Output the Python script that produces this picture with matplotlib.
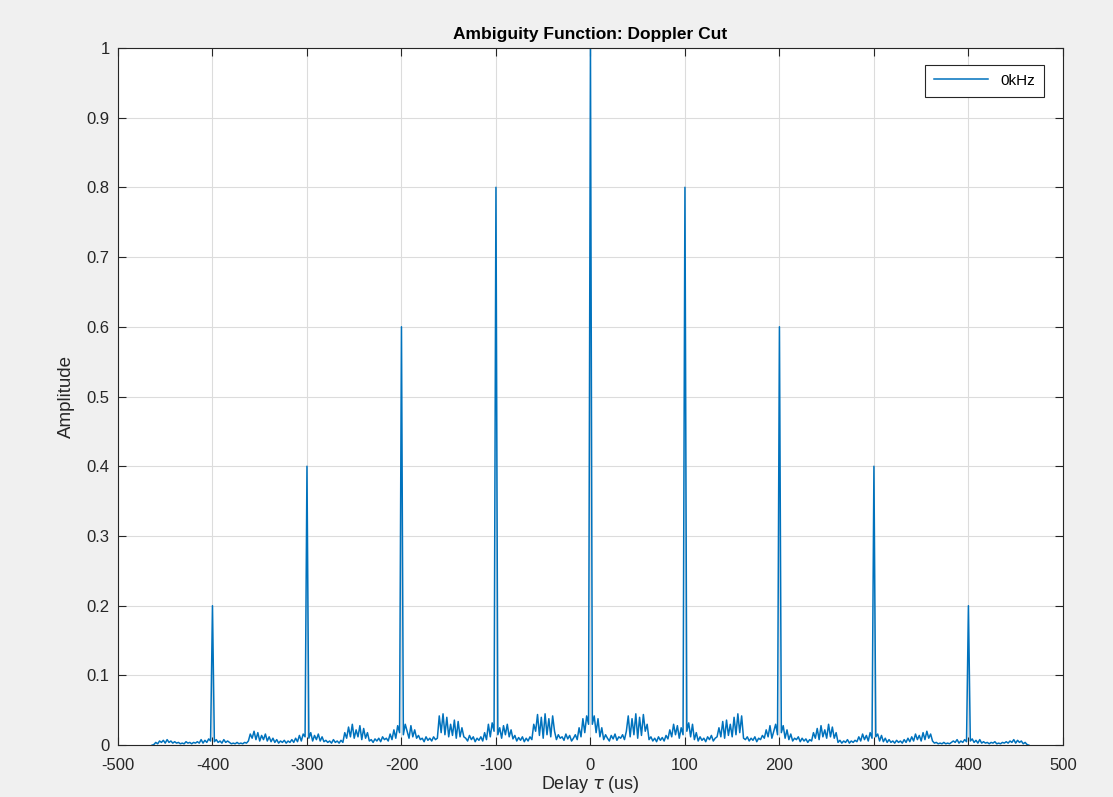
"""
Ambiguity function, zero-Doppler cut of a 5-pulse train (MATLAB-style figure).
Sidelobe levels were read by eye off the reference picture, 2 us apart,
for the positive delays only; the cut is symmetric so the left half is mirrored.
"""
import matplotlib
matplotlib.use("Agg")
import matplotlib.pyplot as plt
import numpy as np

TAU_STEP_US = 2

# |chi(tau, 0)| for tau = 0, 2, 4, ... 464 us
AMP_POS = [
    1.0, 0.03, 0.042, 0.018, 0.038, 0.012, 0.025, 0.008, 0.015, 0.01,
    0.006, 0.014, 0.009, 0.016, 0.007, 0.012, 0.01, 0.015, 0.008, 0.02,
    0.042, 0.012, 0.038, 0.015, 0.045, 0.01, 0.04, 0.014, 0.044, 0.02,
    0.03, 0.008, 0.012, 0.006, 0.01, 0.005, 0.012, 0.007, 0.011, 0.006,
    0.014, 0.009, 0.022, 0.012, 0.03, 0.015, 0.028, 0.01, 0.025, 0.015,
    0.8, 0.02, 0.032, 0.012, 0.03, 0.008, 0.018, 0.006, 0.012, 0.007,
    0.01, 0.005, 0.012, 0.008, 0.014, 0.006, 0.01, 0.012, 0.025, 0.012,
    0.034, 0.01, 0.036, 0.014, 0.03, 0.012, 0.04, 0.015, 0.045, 0.018,
    0.042, 0.01, 0.008, 0.012, 0.006, 0.01, 0.007, 0.012, 0.005, 0.01,
    0.008, 0.014, 0.01, 0.022, 0.012, 0.028, 0.01, 0.02, 0.03, 0.015,
    0.6, 0.018, 0.028, 0.01, 0.022, 0.008, 0.016, 0.006, 0.01, 0.008,
    0.012, 0.005, 0.01, 0.006, 0.009, 0.004, 0.008, 0.006, 0.018, 0.01,
    0.024, 0.008, 0.028, 0.012, 0.022, 0.01, 0.03, 0.012, 0.026, 0.01,
    0.018, 0.004, 0.007, 0.003, 0.006, 0.004, 0.008, 0.003, 0.006, 0.004,
    0.007, 0.005, 0.012, 0.006, 0.016, 0.008, 0.014, 0.006, 0.018, 0.01,
    0.4, 0.012, 0.016, 0.006, 0.014, 0.005, 0.01, 0.004, 0.008, 0.004,
    0.006, 0.003, 0.007, 0.004, 0.006, 0.003, 0.008, 0.004, 0.01, 0.005,
    0.012, 0.006, 0.016, 0.008, 0.014, 0.006, 0.018, 0.008, 0.02, 0.01,
    0.016, 0.006, 0.003, 0.004, 0.002, 0.003, 0.002, 0.004, 0.002, 0.003,
    0.002, 0.004, 0.006, 0.004, 0.008, 0.003, 0.006, 0.004, 0.008, 0.005,
    0.2, 0.006, 0.009, 0.004, 0.007, 0.003, 0.008, 0.003, 0.005, 0.003,
    0.004, 0.002, 0.004, 0.003, 0.005, 0.002, 0.003, 0.002, 0.004, 0.003,
    0.005, 0.003, 0.006, 0.004, 0.008, 0.003, 0.007, 0.004, 0.006, 0.002,
    0.004, 0.001, 0.0,
]

X_TICKS = [-500, -400, -300, -200, -100, 0, 100, 200, 300, 400, 500]
Y_TICKS = [0, 0.1, 0.2, 0.3, 0.4, 0.5, 0.6, 0.7, 0.8, 0.9, 1]
Y_TICK_LABELS = ["0", "0.1", "0.2", "0.3", "0.4", "0.5", "0.6", "0.7", "0.8", "0.9", "1"]

MATLAB_BLUE = "#0072BD"
AXIS_DARK = "#262626"


def main() -> None:
    plt.rcParams["font.family"] = ["Liberation Sans", "DejaVu Sans"]
    plt.rcParams["mathtext.fontset"] = "dejavusans"

    amp_pos = np.array(AMP_POS)
    amp = np.concatenate([amp_pos[:0:-1], amp_pos])
    n_half = len(amp_pos) - 1
    tau = np.arange(-n_half, n_half + 1) * TAU_STEP_US

    fig = plt.figure(figsize=(11.13, 7.97), dpi=100, facecolor="#f0f0f0")
    ax = fig.add_axes([0.106, 0.065, 0.849, 0.875])
    ax.set_facecolor("white")

    ax.plot(tau, amp, color=MATLAB_BLUE, lw=1.1, label="0kHz")

    ax.set_xlim(-500, 500)
    ax.set_ylim(0, 1)
    ax.set_xticks(X_TICKS)
    ax.set_xticklabels([str(t) for t in X_TICKS])
    ax.set_yticks(Y_TICKS)
    ax.set_yticklabels(Y_TICK_LABELS)

    ax.grid(True, color="#dcdcdc", lw=0.8)
    ax.set_axisbelow(True)
    for side in ax.spines.values():
        side.set_color(AXIS_DARK)
        side.set_linewidth(0.8)
    ax.tick_params(direction="in", top=True, right=True, length=6,
                   width=0.8, color=AXIS_DARK, labelcolor=AXIS_DARK,
                   labelsize=12)
    ax.tick_params(axis="x", pad=9)
    ax.tick_params(axis="y", pad=6)

    ax.set_title("Ambiguity Function: Doppler Cut", fontsize=12.5,
                 fontweight="bold", color="black", pad=6)
    ax.set_xlabel(r"Delay $\tau$ (us)", fontsize=13, color=AXIS_DARK, labelpad=1)
    ax.set_ylabel("Amplitude", fontsize=13.5, color=AXIS_DARK, labelpad=8)

    leg = ax.legend(loc="upper right", fontsize=11, frameon=True, fancybox=False,
                    handlelength=3.5, borderpad=0.6, borderaxespad=0,
                    bbox_to_anchor=(0.98, 0.976))
    leg.get_frame().set_edgecolor(AXIS_DARK)
    leg.get_frame().set_linewidth(0.8)
    leg.get_frame().set_alpha(1.0)

    fig.savefig("out.png", dpi=100, facecolor=fig.get_facecolor())
    plt.close(fig)


if __name__ == "__main__":
    main()
